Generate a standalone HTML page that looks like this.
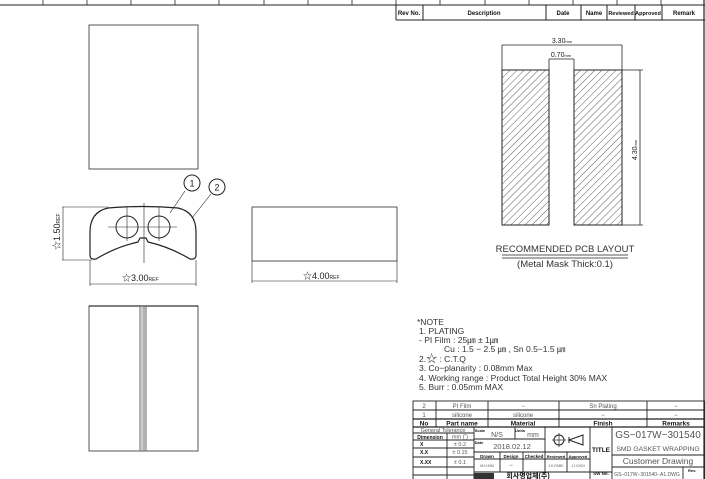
<!DOCTYPE html>
<html><head><meta charset="utf-8"><style>
html,body{margin:0;padding:0;background:#fff;}
svg{display:block;font-family:"Liberation Sans","Noto Sans CJK KR",sans-serif;}
</style></head><body>
<svg width="705" height="479" viewBox="0 0 705 479" xmlns="http://www.w3.org/2000/svg">
<defs>
<pattern id="h" width="5" height="5" patternUnits="userSpaceOnUse" patternTransform="rotate(45)">
<line x1="0" y1="0" x2="0" y2="5" stroke="#333" stroke-width="0.8"/>
</pattern>
</defs>
<g stroke="#222" fill="none" stroke-width="1">
<line x1="0" y1="5" x2="705" y2="5"/>
<g stroke-width="0.8">
<line x1="43" y1="0" x2="43" y2="5"/><line x1="87" y1="0" x2="87" y2="5"/><line x1="131" y1="0" x2="131" y2="5"/>
<line x1="175" y1="0" x2="175" y2="5"/><line x1="219" y1="0" x2="219" y2="5"/><line x1="264" y1="0" x2="264" y2="5"/>
<line x1="308" y1="0" x2="308" y2="5"/><line x1="352" y1="0" x2="352" y2="5"/><line x1="396" y1="0" x2="396" y2="5"/>
<line x1="440" y1="0" x2="440" y2="5"/><line x1="485" y1="0" x2="485" y2="5"/><line x1="529" y1="0" x2="529" y2="5"/>
<line x1="573" y1="0" x2="573" y2="5"/><line x1="617" y1="0" x2="617" y2="5"/><line x1="661" y1="0" x2="661" y2="5"/>
</g>
<line x1="396" y1="20" x2="705" y2="20"/>
<line x1="396" y1="5" x2="396" y2="20"/><line x1="423" y1="5" x2="423" y2="20"/><line x1="546" y1="5" x2="546" y2="20"/>
<line x1="581" y1="5" x2="581" y2="20"/><line x1="607" y1="5" x2="607" y2="20"/><line x1="635" y1="5" x2="635" y2="20"/>
<line x1="662" y1="5" x2="662" y2="20"/>
<line x1="704" y1="0" x2="704" y2="479" stroke-width="1.2"/>

<rect x="89" y="25" width="109" height="144" stroke="#555"/>
<path d="M90,255 L90,232 Q90,212 108,208 Q143,205 178,208 Q196,212 196,232 L196,255 Q196,260 190,259 Q170,247 148,242 L146,238 L140,238 L138,242 Q116,247 96,259 Q90,260 90,255 Z" stroke="#222" stroke-width="1.2"/>
<circle cx="127" cy="227" r="11"/><circle cx="159" cy="227" r="11"/>
<g stroke-width="0.6">
<line x1="108" y1="227" x2="177" y2="227"/>
<line x1="127" y1="207" x2="127" y2="241"/><line x1="159" y1="207" x2="159" y2="241"/>
<line x1="144" y1="203" x2="144" y2="263"/>
<line x1="185" y1="191" x2="170" y2="213"/><line x1="211" y1="194" x2="192" y2="218"/>
<line x1="62" y1="207" x2="108" y2="207"/><line x1="62" y1="260" x2="92" y2="260"/>
<line x1="63" y1="207" x2="63" y2="260"/>
<line x1="90" y1="260" x2="90" y2="286"/><line x1="196" y1="260" x2="196" y2="286"/>
<line x1="90" y1="284" x2="196" y2="284"/>
</g>
<circle cx="192" cy="183" r="8"/><circle cx="217" cy="187" r="8"/>
<rect x="252" y="207" width="145" height="54" stroke="#555"/>
<g stroke-width="0.6"><line x1="252" y1="261" x2="252" y2="283"/><line x1="397" y1="261" x2="397" y2="283"/><line x1="252" y1="281" x2="397" y2="281"/></g>
<rect x="89" y="306" width="109" height="145" stroke="#555"/>
<line x1="89" y1="306" x2="198" y2="306" stroke="#000"/>
<line x1="140" y1="306" x2="140" y2="451" stroke="#666"/>
<line x1="142" y1="306" x2="142" y2="451" stroke="#999"/>
<line x1="144" y1="306" x2="144" y2="451" stroke="#666"/>
<line x1="146" y1="306" x2="146" y2="451" stroke="#666"/>

<rect x="502" y="70" width="47" height="155" fill="url(#h)"/>
<rect x="574" y="70" width="48" height="155" fill="url(#h)"/>
<g stroke-width="0.8">
<line x1="502" y1="45" x2="622" y2="45"/><line x1="502" y1="45" x2="502" y2="70"/><line x1="622" y1="45" x2="622" y2="70"/>
<line x1="549" y1="59" x2="574" y2="59"/><line x1="549" y1="59" x2="549" y2="70"/><line x1="574" y1="59" x2="574" y2="70"/>
<line x1="622" y1="70" x2="643" y2="70"/><line x1="622" y1="225" x2="643" y2="225"/><line x1="640" y1="70" x2="640" y2="225"/>
<line x1="502" y1="255" x2="628" y2="255"/><line x1="502" y1="258" x2="628" y2="258"/>
</g>

<g stroke-width="0.9">
<rect x="413" y="401" width="292" height="80"/>
<line x1="413" y1="410" x2="705" y2="410"/><line x1="413" y1="419" x2="705" y2="419" stroke-width="1.3"/>
<line x1="413" y1="427" x2="705" y2="427" stroke-width="1.3"/>
<line x1="436" y1="401" x2="436" y2="427"/><line x1="488" y1="401" x2="488" y2="427"/>
<line x1="559" y1="401" x2="559" y2="427"/><line x1="647" y1="401" x2="647" y2="427"/>
<line x1="413" y1="433" x2="474" y2="433"/><line x1="413" y1="440" x2="474" y2="440"/><line x1="413" y1="448" x2="474" y2="448"/>
<line x1="413" y1="457" x2="474" y2="457"/><line x1="413" y1="467" x2="474" y2="467"/><line x1="413" y1="475" x2="474" y2="475"/>
<line x1="447" y1="433" x2="447" y2="479"/><line x1="474" y1="427" x2="474" y2="479"/>
<line x1="474" y1="439" x2="545" y2="439"/><line x1="474" y1="452" x2="590" y2="452"/><line x1="474" y1="459" x2="590" y2="459"/>
<line x1="474" y1="472" x2="612" y2="472"/>
<line x1="515" y1="427" x2="515" y2="439"/><line x1="545" y1="427" x2="545" y2="452"/>
<line x1="500" y1="452" x2="500" y2="472"/><line x1="523" y1="452" x2="523" y2="472"/><line x1="545" y1="452" x2="545" y2="472"/>
<line x1="567" y1="452" x2="567" y2="472"/><line x1="590" y1="427" x2="590" y2="479"/>
<line x1="612" y1="427" x2="612" y2="479"/>
<line x1="612" y1="455" x2="705" y2="455"/><line x1="612" y1="467" x2="705" y2="467"/>
<line x1="683" y1="467" x2="683" y2="479"/>
</g>
<rect x="474" y="473" width="20" height="6" fill="#333" stroke="none"/>
<circle cx="559" cy="440" r="5"/><line x1="552" y1="440" x2="566" y2="440" stroke-width="0.7"/><line x1="559" y1="433" x2="559" y2="447" stroke-width="0.7"/>
<path d="M569,440 L583,435 L583,445 Z M569,437 L569,443"/>
</g>

<g fill="#111" font-size="6" font-weight="bold" text-anchor="middle">
<text x="409" y="15">Rev No.</text><text x="484" y="15">Description</text><text x="563" y="15">Date</text>
<text x="594" y="15">Name</text><text x="621" y="15" font-size="5.5">Reviewed</text><text x="648" y="15" font-size="5.5">Approved</text><text x="684" y="15">Remark</text>
</g>

<g fill="#222" font-size="8">
<text x="122" y="281" font-size="9">☆3.00<tspan font-size="5">REF</tspan></text>
<text x="303" y="279" font-size="9">☆4.00<tspan font-size="5">REF</tspan></text>
<text transform="translate(60,250) rotate(-90)" font-size="9">☆1.50<tspan font-size="5">REF</tspan></text>
<text x="192" y="186.5" text-anchor="middle" font-size="9">1</text>
<text x="217" y="190.5" text-anchor="middle" font-size="9">2</text>
<text x="562" y="43" text-anchor="middle" font-size="7">3.30<tspan font-size="4">mm</tspan></text>
<text x="561" y="57" text-anchor="middle" font-size="7">0.70<tspan font-size="4">mm</tspan></text>
<text transform="translate(637,150) rotate(-90)" text-anchor="middle" font-size="7">4.30<tspan font-size="4">mm</tspan></text>
<text x="565" y="252" text-anchor="middle" font-size="9.5" fill="#333">RECOMMENDED PCB LAYOUT</text>
<text x="565" y="267" text-anchor="middle" font-size="9.5" fill="#333">(Metal Mask Thick:0.1)</text>
</g>

<g fill="#333" font-size="8.5">
<text x="417" y="325">*NOTE</text>
<text x="419" y="334">1. PLATING</text>
<text x="419" y="343"> - PI Film : 25㎛ ± 1㎛</text>
<text x="444" y="352">Cu : 1.5 − 2.5 ㎛ , Sn 0.5−1.5 ㎛</text>
<text x="419" y="362">2.<tspan font-size="11">☆</tspan> : C.T.Q</text>
<text x="419" y="371">3. Co−planarity : 0.08mm  Max</text>
<text x="419" y="381">4. Working range  :  Product Total Height  30% MAX</text>
<text x="419" y="390">5. Burr : 0.05mm MAX</text>
</g>

<g fill="#555" font-size="6" text-anchor="middle">
<text x="424" y="408">2</text><text x="462" y="408">PI Film</text><text x="523" y="408">−</text><text x="603" y="408">Sn Plating</text><text x="676" y="408">−</text>
<text x="424" y="417">1</text><text x="462" y="417">silicone</text><text x="523" y="417">silicone</text><text x="603" y="417">−</text><text x="676" y="417">−</text>
<text x="443" y="432" font-size="5.5">General Tolerance</text>
<text x="460" y="438.5" font-size="5.5">mm (˚)</text><text x="460" y="446" font-size="5.5">± 0.2</text><text x="460" y="454" font-size="5.5">± 0.15</text><text x="460" y="464" font-size="5.5">± 0.1</text>
<text x="497" y="437" font-size="7">N/S</text><text x="533" y="437" font-size="7">mm</text>
<text x="512" y="449" font-size="7.5">2018.02.12</text>
<text x="487" y="467" font-size="3.5">M.H.KIM</text><text x="511" y="467">−</text>
<text x="556" y="467" font-size="3.5">J.K.PARK</text><text x="578" y="467" font-size="3.5">J.I.CHOI</text>
<text x="658" y="438" font-size="10">GS−017W−301540</text>
<text x="658" y="451" font-size="6.8">SMD GASKET WRAPPING</text>
<text x="658" y="464" font-size="8.5">Customer Drawing</text>
<text x="647" y="476" font-size="5">GS−017W−301540−A1.DWG</text>
</g>
<g fill="#111" font-size="6.5" font-weight="bold" text-anchor="middle">
<text x="424" y="425.5">No</text><text x="462" y="425.5">Part name</text><text x="523" y="425.5">Material</text><text x="603" y="425.5">Finish</text><text x="676" y="425.5">Remarks</text>
<text x="430" y="439" font-size="5">Dimension</text>
<text x="420" y="446" text-anchor="start" font-size="5">X</text><text x="420" y="454" text-anchor="start" font-size="5">X.X</text><text x="420" y="464" text-anchor="start" font-size="5">X.XX</text>
<text x="480" y="432" font-size="4">Scale</text><text x="520" y="432" font-size="4">Units</text><text x="479" y="444" font-size="4">Date</text>
<text x="487" y="458" font-size="4.5">Drawn</text><text x="511" y="458" font-size="4.5">Design</text><text x="534" y="458" font-size="4.5">Checked</text>
<text x="556" y="458" font-size="4">Reviewed</text><text x="578" y="458" font-size="4">Approved</text>
<text x="601" y="452" font-size="6.5">TITLE</text>
<text x="601" y="475" font-size="4.5">SW No.</text>
<text x="688" y="472" font-size="4" text-anchor="start">Rev.</text>
<text x="528" y="478" font-size="7">회사명업체(주)</text>
</g>
</svg>
</body></html>
